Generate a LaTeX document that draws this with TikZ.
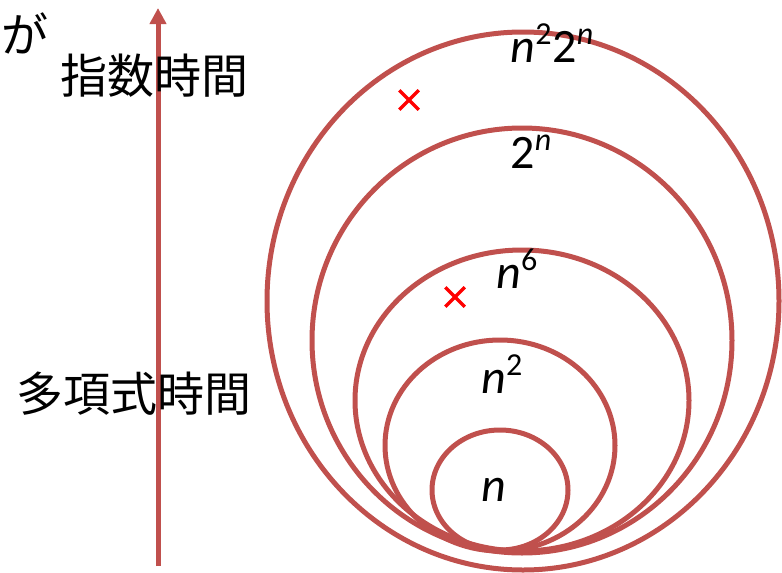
\documentclass[tikz,border=0pt]{standalone}
\usepackage{fontspec}
\setmainfont{Carlito}
\newfontfamily\jp{Noto Sans CJK JP}
\usetikzlibrary{arrows.meta,shapes.misc}
\definecolor{ring}{HTML}{C0504D}
\newcommand{\sups}[1]{\raisebox{0.36em}{\fontsize{32}{32}\selectfont #1}}
\newcommand{\nn}{\textit{n}}
\tikzset{
  ringline/.style={draw=ring, line width=5pt},
  lbl/.style={anchor=base, inner sep=0pt, font=\fontsize{48}{48}\selectfont},
  jtext/.style={anchor=west, inner sep=0pt, font=\jp\fontsize{47}{47}\selectfont},
  mark x/.style={cross out, draw=red, line width=3.5pt, minimum size=16pt, inner sep=0pt},
}
\begin{document}
\begin{tikzpicture}[x=1pt,y=-1pt]
\useasboundingbox (0,0) rectangle (782,573);
% rings
\draw[ringline] (523,301) ellipse [x radius=256pt, y radius=269pt];
\draw[ringline] (522,340.5) ellipse [x radius=210pt, y radius=212.5pt];
\draw[ringline] (522,400.5) ellipse [x radius=167pt, y radius=150.5pt];
\draw[ringline] (500,445.5) ellipse [x radius=115pt, y radius=105.5pt];
\draw[ringline] (500,490) ellipse [x radius=68pt, y radius=60pt];
% arrow
\coordinate (abot) at (158,566);
\coordinate (atop) at (158,8);
\draw[draw=ring, line width=5pt, -{Triangle[width=16pt,length=16pt]}, color=ring] (abot) -- (atop);
% labels
\node[lbl] (l1) at (552,62) {\nn\sups{2}\kern1pt 2\sups{\nn}};
\node[lbl] (l2) at (531,168) {2\sups{\nn}};
\node[lbl] (l3) at (517,288) {\nn\sups{6}};
\node[lbl] (l4) at (502,393) {\nn\sups{2}};
\node[lbl] (l5) at (494,501) {\nn};
% crosses
\node[mark x] (x1) at (409,100) {};
\node[mark x] (x2) at (455,297) {};
% japanese
\node[jtext] (ga) at (1,33) {が};
\node[jtext] (exp) at (60,76) {指数時間};
\node[jtext] (poly) at (16,394) {多項式時間};
\end{tikzpicture}
\end{document}
